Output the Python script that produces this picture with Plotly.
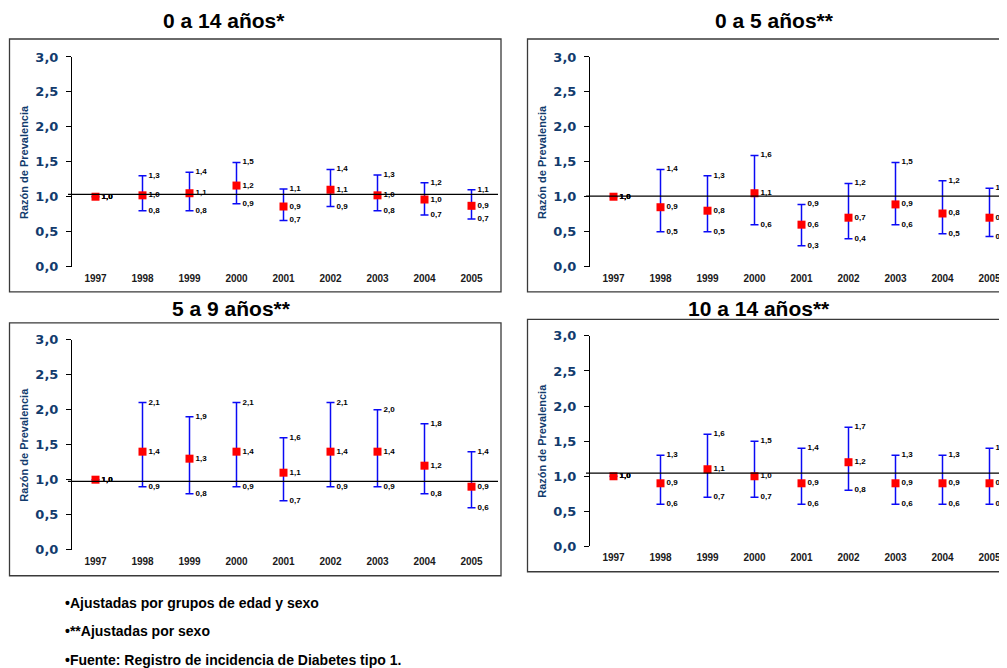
import math
import plotly.graph_objects as go

W, H = 1007, 668
# page-to-figure calibration (page offset and vertical scale seen in the capture)
OFF_X = 7.0
OFF_Y = 14.3
SCALE_Y = 0.978

years = ["1997", "1998", "1999", "2000", "2001", "2002", "2003", "2004", "2005"]

titles = ["0 a 14 años*", "0 a 5 años**", "5 a 9 años**", "10 a 14 años**"]

# point estimates, upper and lower confidence limits per panel
est_0_14 = [1.00, 1.02, 1.05, 1.16, 0.86, 1.10, 1.02, 0.96, 0.87]
hi_0_14 = [1.00, 1.30, 1.35, 1.49, 1.11, 1.39, 1.31, 1.20, 1.10]
lo_0_14 = [1.00, 0.80, 0.80, 0.90, 0.66, 0.86, 0.80, 0.74, 0.68]

est_0_5 = [1.00, 0.85, 0.80, 1.05, 0.60, 0.70, 0.89, 0.76, 0.70]
hi_0_5 = [1.00, 1.39, 1.30, 1.59, 0.89, 1.19, 1.49, 1.23, 1.12]
lo_0_5 = [1.00, 0.50, 0.50, 0.60, 0.30, 0.40, 0.60, 0.47, 0.43]

est_5_9 = [1.00, 1.40, 1.30, 1.40, 1.10, 1.40, 1.40, 1.20, 0.90]
hi_5_9 = [1.00, 2.10, 1.90, 2.10, 1.60, 2.10, 2.00, 1.80, 1.40]
lo_5_9 = [1.00, 0.90, 0.80, 0.90, 0.70, 0.90, 0.90, 0.80, 0.60]

est_10_14 = [1.00, 0.90, 1.10, 1.00, 0.90, 1.20, 0.90, 0.90, 0.90]
hi_10_14 = [1.00, 1.30, 1.60, 1.50, 1.40, 1.70, 1.30, 1.30, 1.40]
lo_10_14 = [1.00, 0.60, 0.70, 0.70, 0.60, 0.80, 0.60, 0.60, 0.60]

# level of the horizontal reference (category-axis) line in each panel
ref_level = [1.035, 1.01, 0.975, 1.045]

y_ticks = [0.0, 0.5, 1.0, 1.5, 2.0, 2.5, 3.0]

footnotes = [
    "•Ajustadas por grupos de edad y sexo",
    "•**Ajustadas por sexo",
    "•Fuente: Registro de incidencia de Diabetes tipo 1.",
]

panels = [
    (est_0_14, hi_0_14, lo_0_14),
    (est_0_5, hi_0_5, lo_0_5),
    (est_5_9, hi_5_9, lo_5_9),
    (est_10_14, hi_10_14, lo_10_14),
]


def px(x):
    return (x - OFF_X) / W


def py(y):
    return 1 - (y / SCALE_Y - OFF_Y) / H


def lab(v):
    r = math.floor(v * 10 + 0.5 + 1e-9) / 10
    return f"{r:.1f}".replace(".", ",")


NAVY = "#123B6D"
BLUE = "#0A0AF5"
RED = "#FF0000"
TXT_FONT = "Liberation Sans, Arial, sans-serif"
TICK_FONT = "DejaVu Sans, Verdana, sans-serif"

CAT_W = 47.0
VIEW_R = W + OFF_X
geo = [
    dict(ax=71, top=56, bot=265.7, box=(8.5, 38, 500, 291), title=(223, 19.5), ytitle=(23, 161)),
    dict(ax=589, top=56, bot=265.7, box=(526.5, 38, 1019, 291), title=(773, 19.5), ytitle=(541, 161)),
    dict(ax=71, top=338.7, bot=549, box=(8.5, 322, 500, 575), title=(230.5, 307.5), ytitle=(23, 444)),
    dict(ax=589, top=335, bot=545.7, box=(526.5, 318.5, 1019, 571), title=(758, 307.5), ytitle=(541, 440)),
]

fig = go.Figure()
layout = dict(
    width=W,
    height=H,
    margin=dict(l=0, r=0, t=0, b=0),
    paper_bgcolor="white",
    plot_bgcolor="white",
    showlegend=False,
    separators=",.",
    shapes=[],
    annotations=[],
)

for i, ((est, hi, lo), g) in enumerate(zip(panels, geo)):
    n = i + 1
    xa = "x" if n == 1 else f"x{n}"
    ya = "y" if n == 1 else f"y{n}"
    xkey = "xaxis" if n == 1 else f"xaxis{n}"
    ykey = "yaxis" if n == 1 else f"yaxis{n}"
    ovkey = f"yaxis{n + 4}"

    right_px = min(g["ax"] + 9 * CAT_W, VIEW_R)
    xr = [-0.5, -0.5 + (right_px - g["ax"]) / CAT_W]

    layout[xkey] = dict(
        domain=[px(g["ax"]), px(right_px)],
        anchor=ya,
        type="category",
        range=xr,
        showline=False,
        showgrid=False,
        zeroline=False,
        ticks="",
        tickfont=dict(family=TXT_FONT, size=10, color="#1a1a1a", weight="bold"),
        ticklabelstandoff=4,
    )
    layout[ykey] = dict(
        domain=[py(g["bot"]), py(g["top"])],
        anchor=xa,
        range=[0, 3],
        tickvals=y_ticks,
        tickformat=".1f",
        showline=True,
        linecolor="black",
        linewidth=1,
        showgrid=False,
        zeroline=False,
        ticks="outside",
        ticklen=5,
        tickwidth=1,
        tickcolor="black",
        tickfont=dict(family=TICK_FONT, size=13, color=NAVY, weight="bold"),
        ticklabelstandoff=5,
    )
    layout[ovkey] = dict(
        overlaying=ya,
        matches=ya,
        anchor=xa,
        side="left",
        range=[0, 3],
        tickvals=y_ticks,
        showticklabels=False,
        showline=False,
        showgrid=False,
        zeroline=False,
        ticks="inside",
        ticklen=5,
        tickwidth=1,
        tickcolor="black",
    )

    fig.add_trace(
        go.Scatter(
            x=years,
            y=est,
            xaxis=xa,
            yaxis=ya,
            mode="markers+text",
            marker=dict(symbol="square", size=8, color=RED),
            error_y=dict(
                type="data",
                symmetric=False,
                array=[h - e for h, e in zip(hi, est)],
                arrayminus=[e - l for e, l in zip(est, lo)],
                color=BLUE,
                thickness=1.5,
                width=4,
            ),
            text=[lab(v) for v in est],
            textposition="middle right",
            textfont=dict(family=TXT_FONT, size=8, color="black", weight="bold"),
            cliponaxis=False,
            hoverinfo="skip",
        )
    )
    for arr in (hi, lo):
        fig.add_trace(
            go.Scatter(
                x=years,
                y=arr,
                xaxis=xa,
                yaxis=ya,
                mode="markers+text",
                marker=dict(symbol="square", size=8, color="rgba(0,0,0,0)"),
                text=[lab(v) for v in arr],
                textposition="middle right",
                textfont=dict(family=TXT_FONT, size=8, color="black", weight="bold"),
                cliponaxis=False,
                hoverinfo="skip",
            )
        )

    layout["shapes"].append(
        dict(
            type="line",
            xref="paper",
            yref=ya,
            x0=px(g["ax"] - 4),
            x1=px(min(g["ax"] + 9 * CAT_W + 3, VIEW_R)),
            y0=ref_level[i],
            y1=ref_level[i],
            line=dict(color="black", width=1.3),
        )
    )
    x0, y0, x1, y1 = g["box"]
    layout["shapes"].append(
        dict(
            type="rect",
            xref="paper",
            yref="paper",
            x0=px(x0),
            x1=px(x1),
            y0=py(y1),
            y1=py(y0),
            line=dict(color="#3a3a3a", width=1.3),
            fillcolor="rgba(0,0,0,0)",
            layer="below",
        )
    )
    layout["annotations"].append(
        dict(
            text=f"<b>{titles[i]}</b>",
            xref="paper",
            yref="paper",
            x=px(g["title"][0]),
            y=py(g["title"][1]),
            xanchor="center",
            yanchor="middle",
            showarrow=False,
            font=dict(family=TXT_FONT, size=21, color="black"),
        )
    )
    layout["annotations"].append(
        dict(
            text="<b>Razón de Prevalencia</b>",
            xref="paper",
            yref="paper",
            x=px(g["ytitle"][0]),
            y=py(g["ytitle"][1]),
            xanchor="center",
            yanchor="middle",
            textangle=-90,
            showarrow=False,
            font=dict(family=TXT_FONT, size=11, color=NAVY),
        )
    )

for t, yy in zip(footnotes, [602.7, 630.5, 659]):
    layout["annotations"].append(
        dict(
            text=f"<b>{t}</b>",
            xref="paper",
            yref="paper",
            x=px(62),
            y=py(yy),
            xanchor="left",
            yanchor="middle",
            showarrow=False,
            font=dict(family=TXT_FONT, size=14, color="black"),
        )
    )

fig.update_layout(**layout)
fig.update_layout(font=dict(family=TXT_FONT))

fig.write_html("out.html")
